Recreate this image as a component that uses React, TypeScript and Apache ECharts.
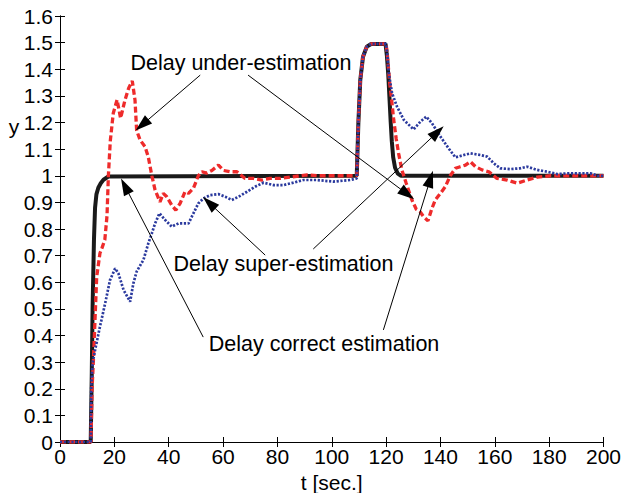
import React, { useEffect, useRef } from "react";
import * as echarts from "echarts";

// Delay correct estimation (black)
const correctT = [0, 11.3, 11.7, 12.0, 12.5, 12.9, 13.4, 14.1, 15.0, 16.0, 17.8, 109.2, 109.8, 110.5, 111.5, 112.9, 114.5, 119.8, 120.3, 120.8, 121.3, 121.7, 122.1, 122.6, 123.3, 124.3, 125.5, 200];
const correctY = [0, 0, 0.26, 0.51, 0.76, 0.88, 0.93, 0.955, 0.972, 0.985, 0.997, 1.0, 1.2, 1.36, 1.447, 1.485, 1.495, 1.495, 1.45, 1.38, 1.28, 1.2, 1.13, 1.07, 1.03, 1.008, 1.0, 1.0];

// Delay under-estimation (red dashed)
const underT = [0, 11.4, 11.8, 12.3, 13.5, 14.7, 15.5, 16.5, 17.3, 17.8, 18.5, 19.6, 21.0, 22.3, 23.9, 25.3, 26.6, 27.6, 28.2, 29.5, 31.3, 32.5, 33.8, 35.0, 36.8, 38.0, 39.3, 41.1, 42.6, 44.2, 46.0, 47.3, 49.1, 50.9, 52.2, 54.0, 55.9, 58.3, 60.1, 62.6, 65.1, 68.1, 71.2, 74.3, 77.3, 81.0, 84.7, 90.9, 95, 100, 105, 109.2, 109.8, 110.5, 111.5, 112.9, 114.5, 120.0, 120.5, 121.3, 122.2, 122.8, 123.7, 124.6, 125.8, 127.4, 129.5, 131.1, 132.5, 133.8, 135.4, 136.9, 138.1, 140.0, 141.8, 143.6, 145.5, 147.3, 149.2, 151.0, 152.9, 155.3, 157.8, 160.8, 164.5, 168.2, 171.9, 175.6, 180.5, 200];
const underY = [0, 0, 0.2, 0.308, 0.62, 0.709, 0.73, 0.76, 0.85, 1.0, 1.13, 1.235, 1.285, 1.216, 1.284, 1.33, 1.356, 1.284, 1.17, 1.134, 1.109, 1.07, 1.0, 0.946, 0.902, 0.934, 0.921, 0.89, 0.871, 0.896, 0.94, 0.934, 0.953, 1.0, 1.015, 1.01, 1.02, 1.04, 1.02, 1.015, 1.015, 0.99, 0.99, 0.984, 0.99, 0.99, 0.995, 1.003, 1.0, 1.0, 1.0, 1.0, 1.2, 1.36, 1.447, 1.485, 1.495, 1.495, 1.45, 1.35, 1.27, 1.21, 1.14, 1.084, 1.022, 0.972, 0.909, 0.874, 0.865, 0.846, 0.831, 0.878, 0.909, 0.934, 0.959, 1.0, 1.028, 1.034, 1.04, 1.053, 1.034, 1.022, 1.015, 0.99, 0.984, 0.972, 0.984, 0.995, 1.0, 1.0];

// Delay super-estimation (blue dotted)
const superT = [0, 11.3, 11.5, 12.0, 12.9, 14.7, 16.6, 18.4, 20.3, 21.5, 23.4, 25.8, 27.0, 28.2, 30.7, 32.5, 33.8, 35.0, 36.6, 38.7, 41.1, 43.6, 47.3, 49.1, 50.9, 52.8, 55.2, 58.3, 60.8, 63.2, 65.7, 68.8, 71.8, 74.9, 78.6, 82.3, 85.9, 89.6, 94.5, 100.6, 106.8, 109.2, 109.8, 110.5, 111.5, 112.9, 114.5, 120.0, 120.5, 121.0, 122.2, 124.0, 126.5, 130.1, 132.6, 134.8, 136.9, 140.0, 143.0, 145.5, 148.6, 151.0, 154.7, 157.2, 159.6, 162.0, 165.7, 169.4, 171.9, 175.6, 179.3, 183.0, 186.6, 190.3, 195.2, 198.0, 200];
const superY = [0, 0, 0.21, 0.295, 0.345, 0.433, 0.52, 0.608, 0.652, 0.633, 0.571, 0.527, 0.596, 0.64, 0.684, 0.746, 0.784, 0.821, 0.859, 0.834, 0.809, 0.821, 0.821, 0.859, 0.896, 0.915, 0.927, 0.931, 0.921, 0.909, 0.921, 0.94, 0.959, 0.974, 0.965, 0.965, 0.974, 0.984, 0.984, 0.978, 0.984, 0.99, 1.2, 1.36, 1.447, 1.485, 1.495, 1.495, 1.45, 1.385, 1.31, 1.26, 1.21, 1.174, 1.203, 1.222, 1.197, 1.147, 1.103, 1.069, 1.078, 1.084, 1.078, 1.072, 1.047, 1.028, 1.025, 1.028, 1.034, 1.022, 1.015, 1.006, 1.009, 1.009, 1.009, 1.0, 1.0];

// Axis ticks
const xTicks = [0, 20, 40, 60, 80, 100, 120, 140, 160, 180, 200];
const yTicks = [0, 0.1, 0.2, 0.3, 0.4, 0.5, 0.6, 0.7, 0.8, 0.9, 1, 1.1, 1.2, 1.3, 1.4, 1.5, 1.6];

// Annotation arrows (data coordinates: [t, y] start -> end)
const arrows: [number, number, number, number][] = [
  [51.6, 1.378, 30.2, 1.191],
  [69.2, 1.378, 127.8, 0.931],
  [75.5, 0.702, 54.9, 0.898],
  [93.2, 0.725, 138.9, 1.164],
  [52.7, 0.394, 23.9, 0.961],
  [119.0, 0.421, 136.3, 0.988],
];

const labels = ["Delay under-estimation", "Delay super-estimation", "Delay correct estimation"];

const zip = (t: number[], y: number[]) => t.map((v, i) => [v, y[i]]);

export default function App() {
  const ref = useRef<HTMLDivElement>(null);
  useEffect(() => {
    if (!ref.current) return;
    const chart = echarts.init(ref.current, undefined, { renderer: "svg" });
    const font = "'Liberation Sans', Arial, Helvetica, sans-serif";
    const axisCommon = {
      type: "value" as const,
      axisLine: { show: true, lineStyle: { color: "#000", width: 1 } },
      axisTick: { show: true, inside: true, length: 5, lineStyle: { color: "#000" } },
      splitLine: { show: false },
    };
    const annot = (text: string, x: number, y: number) => ({
      type: "text", x, y, z: 10,
      style: { text, fontSize: 21.5, fontFamily: font, fill: "#000", textAlign: "center", textVerticalAlign: "middle" },
    });
    chart.setOption({
      animation: false,
      backgroundColor: "#fff",
      grid: { left: 60, right: 18.5, top: 16, bottom: 51, containLabel: false, outerBoundsMode: "none" },
      xAxis: [
        {
          ...axisCommon,
          min: 0, max: 200, interval: 20, position: "bottom",
          name: "t [sec.]", nameLocation: "middle", nameGap: 25,
          nameTextStyle: { color: "#000", fontSize: 21, fontFamily: font },
          axisLabel: { color: "#000", fontSize: 21, fontFamily: font, margin: 4,
            formatter: (v: number) => (xTicks.includes(v) ? String(v) : "") },
        },
        { ...axisCommon, min: 0, max: 200, interval: 20, position: "top", axisLabel: { show: false } },
      ],
      yAxis: [
        {
          ...axisCommon,
          min: 0, max: 1.6, interval: 0.1, position: "left",
          axisLabel: { color: "#000", fontSize: 21, fontFamily: font, margin: 7,
            formatter: (v: number) => {
              const r = Math.round(v * 10) / 10;
              return yTicks.includes(r) ? String(r) : "";
            } },
        },
        { ...axisCommon, min: 0, max: 1.6, interval: 0.1, position: "right", axisLabel: { show: false } },
      ],
      series: [
        {
          name: "correct", type: "line", data: zip(correctT, correctY), showSymbol: false, symbol: "none",
          lineStyle: { color: "#1a1a1a", width: 4 },
          markLine: {
            silent: true, symbol: ["none", "triangle"], symbolSize: [11, 17],
            label: { show: false },
            lineStyle: { color: "#000", width: 1, type: "solid" },
            data: arrows.map((a) => [{ coord: [a[0], a[1]] }, { coord: [a[2], a[3]] }]),
          },
          z: 2,
        },
        {
          name: "under", type: "line", data: zip(underT, underY), showSymbol: false, symbol: "none",
          lineStyle: { color: "#ee2b2b", width: 3.3, type: [6, 3] },
          z: 3,
        },
        {
          name: "super", type: "line", data: zip(superT, superY), showSymbol: false, symbol: "none",
          lineStyle: { color: "#2b3a9e", width: 2.7, type: [2.2, 1.6] },
          z: 4,
        },
      ],
      graphic: [
        { type: "text", x: 14, y: 126, style: { text: "y", fontSize: 21, fontFamily: font, fill: "#000", textAlign: "center", textVerticalAlign: "middle" } },
        annot(labels[0], 241, 63),
        annot(labels[1], 283.5, 264),
        annot(labels[2], 324, 344),
      ],
    });
    return () => chart.dispose();
  }, []);
  return <div ref={ref} style={{ position: "fixed", left: 0, top: 0, width: 622, height: 493 }} />;
}
